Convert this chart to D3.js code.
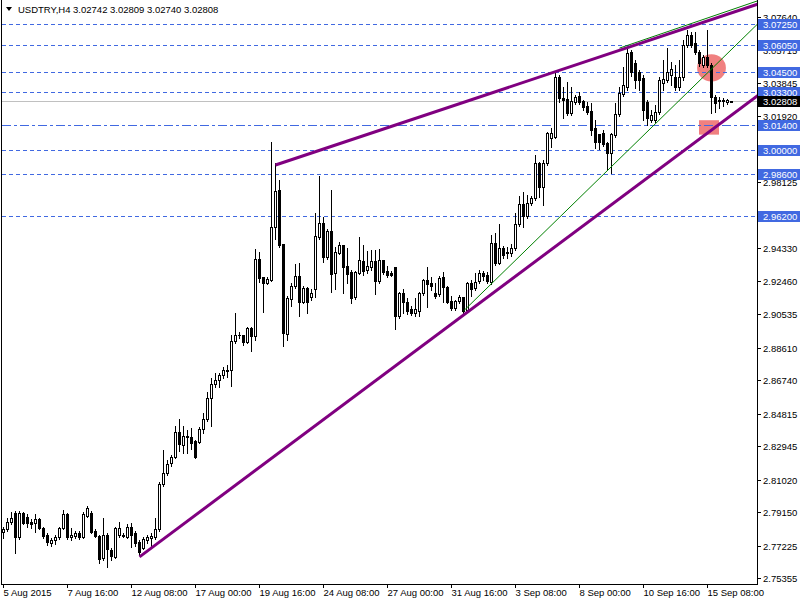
<!DOCTYPE html>
<html><head><meta charset="utf-8">
<script src="https://cdn.jsdelivr.net/npm/d3@7/dist/d3.min.js"></script>
<style>
html,body{margin:0;padding:0;background:#fff;}
svg{display:block;}
text{font-family:"Liberation Sans",Arial,sans-serif;}
</style></head>
<body>
<svg id="chart" width="800" height="600"></svg>
<script>
// ---- DATA (USDTRY H4) ----
const symbolTitle = "USDTRY,H4";
const lastQuote = ["3.02742", "3.02809", "3.02740", "3.02808"];
const opens = [2.7800,2.7818,2.7858,2.7910,2.7772,2.7910,2.7887,2.7858,2.7852,2.7875,2.7823,2.7783,2.7737,2.7754,2.7772,2.7823,2.7904,2.7772,2.7777,2.7795,
2.7772,2.7892,2.7910,2.7806,2.7777,2.7651,2.7783,2.7697,2.7657,2.7783,2.7783,2.7772,2.7829,2.7795,2.7743,2.7708,2.7754,2.7766,2.7772,2.7818,
2.8077,2.8140,2.8197,2.8232,2.8376,2.8301,2.8353,2.8347,2.8324,2.8318,2.8393,2.8451,2.8572,2.8652,2.8675,2.8704,2.8733,2.8733,2.8900,2.8934,
2.8934,2.8894,2.8974,2.8928,2.9371,2.9268,2.9233,2.9251,2.9556,2.9769,2.9458,2.8940,2.9141,2.9216,2.9274,2.9124,2.9205,2.9153,2.9199,2.9498,
2.9579,2.9383,2.9533,2.9291,2.9406,2.9452,2.9331,2.9297,2.9153,2.9291,2.9360,2.9308,2.9325,2.9360,2.9245,2.9366,2.9302,2.9291,2.9325,2.9043,
2.9176,2.9124,2.9084,2.9061,2.9072,2.9176,2.9251,2.9233,2.9176,2.9170,2.9268,2.9210,2.9130,2.9089,2.9130,2.9153,2.9078,2.9233,2.9205,2.9245,
2.9291,2.9279,2.9239,2.9464,2.9348,2.9435,2.9412,2.9406,2.9435,2.9573,2.9688,2.9619,2.9694,2.9723,2.9924,2.9786,2.9924,3.0068,3.0074,3.0419,
3.0298,3.0292,3.0212,3.0275,3.0310,3.0281,3.0252,3.0223,3.0125,3.0091,3.0097,3.0039,2.9981,3.0085,3.0206,3.0321,3.0361,3.0563,3.0499,3.0448,
3.0413,3.0275,3.0171,3.0171,3.0217,3.0384,3.0402,3.0430,3.0419,3.0361,3.0419,3.0603,3.0661,3.0615,3.0563,3.0488,3.0534,3.0488,3.0304,3.0286,
3.0281,3.0275,3.02742];
const highs = [2.7829,2.7881,2.7915,2.7921,2.7921,2.7915,2.7904,2.7875,2.7904,2.7881,2.7829,2.7795,2.7766,2.7783,2.7829,2.7927,2.7910,2.7823,2.7806,2.7806,
2.7915,2.7950,2.7921,2.7818,2.7783,2.7881,2.7795,2.7708,2.7829,2.7858,2.7795,2.7846,2.7852,2.7806,2.7754,2.7772,2.7783,2.7795,2.7881,2.8088,
2.8272,2.8215,2.8243,2.8410,2.8451,2.8410,2.8387,2.8399,2.8330,2.8405,2.8485,2.8606,2.8687,2.8715,2.8715,2.8750,2.8761,2.8934,2.9061,2.8951,
2.8934,2.8980,2.8980,2.9429,2.9412,2.9268,2.9268,3.0045,2.9924,2.9826,2.9458,2.9159,2.9233,2.9343,2.9348,2.9216,2.9210,2.9199,2.9636,2.9849,
2.9613,2.9544,2.9769,2.9441,2.9469,2.9452,2.9435,2.9308,2.9302,2.9498,2.9452,2.9418,2.9423,2.9423,2.9429,2.9366,2.9331,2.9302,2.9325,2.9182,
2.9199,2.9147,2.9101,2.9147,2.9182,2.9256,2.9325,2.9268,2.9233,2.9274,2.9297,2.9216,2.9159,2.9136,2.9164,2.9153,2.9239,2.9251,2.9291,2.9308,
2.9302,2.9297,2.9510,2.9521,2.9573,2.9446,2.9441,2.9458,2.9636,2.9734,2.9757,2.9740,2.9734,2.9970,2.9930,2.9941,3.0102,3.0125,3.0448,3.0430,
3.0361,3.0390,3.0361,3.0315,3.0333,3.0286,3.0275,3.0269,3.0171,3.0091,3.0114,3.0045,3.0097,3.0269,3.0361,3.0476,3.0592,3.0574,3.0517,3.0459,
3.0430,3.0286,3.0229,3.0258,3.0419,3.0517,3.0586,3.0505,3.0488,3.0517,3.0632,3.0689,3.0678,3.0678,3.0574,3.0545,3.0689,3.0499,3.0315,3.0304,
3.0298,3.0292,3.02809];
const lows = [2.7766,2.7806,2.7846,2.7679,2.7760,2.7846,2.7829,2.7823,2.7800,2.7818,2.7766,2.7726,2.7720,2.7731,2.7760,2.7818,2.7760,2.7754,2.7766,2.7760,
2.7766,2.7887,2.7795,2.7772,2.7622,2.7639,2.7599,2.7639,2.7651,2.7772,2.7772,2.7766,2.7714,2.7720,2.7668,2.7703,2.7737,2.7714,2.7760,2.7806,
2.8065,2.8128,2.8180,2.8226,2.8266,2.8255,2.8255,2.8278,2.8226,2.8313,2.8370,2.8439,2.8410,2.8635,2.8635,2.8687,2.8692,2.8641,2.8888,2.8917,
2.8877,2.8888,2.8842,2.8905,2.9239,2.9066,2.9228,2.9245,2.9487,2.9441,2.8871,2.8905,2.9101,2.9205,2.9043,2.9118,2.9061,2.9136,2.9153,2.9487,
2.9354,2.9371,2.9182,2.9199,2.9400,2.9176,2.9233,2.9118,2.9141,2.9285,2.9279,2.9291,2.9308,2.9170,2.9233,2.9285,2.9268,2.9274,2.8969,2.9032,
2.9061,2.9055,2.9049,2.9043,2.9043,2.9164,2.9095,2.9193,2.9147,2.9159,2.9124,2.9118,2.9078,2.9078,2.9118,2.9061,2.9072,2.9159,2.9193,2.9233,
2.9251,2.9233,2.9228,2.9337,2.9343,2.9377,2.9377,2.9389,2.9423,2.9561,2.9556,2.9607,2.9682,2.9711,2.9728,2.9682,2.9912,3.0016,3.0068,3.0275,
3.0183,3.0200,3.0200,3.0264,3.0264,3.0229,3.0206,3.0085,3.0010,3.0004,3.0022,2.9884,2.9866,3.0074,3.0194,3.0310,3.0344,3.0425,3.0356,3.0344,
3.0171,3.0142,3.0160,3.0160,3.0206,3.0344,3.0390,3.0373,3.0344,3.0344,3.0402,3.0592,3.0592,3.0551,3.0482,3.0476,3.0476,3.0212,3.0217,3.0240,
3.0252,3.0264,3.02740];
const closes = [2.7818,2.7858,2.7881,2.7772,2.7910,2.7852,2.7852,2.7846,2.7875,2.7823,2.7777,2.7743,2.7754,2.7772,2.7823,2.7904,2.7772,2.7783,2.7795,2.7772,
2.7904,2.7938,2.7800,2.7777,2.7645,2.7783,2.7703,2.7662,2.7823,2.7823,2.7777,2.7829,2.7783,2.7737,2.7685,2.7760,2.7772,2.7777,2.7818,2.8077,
2.8140,2.8192,2.8232,2.8376,2.8307,2.8353,2.8347,2.8313,2.8232,2.8393,2.8451,2.8572,2.8652,2.8675,2.8704,2.8733,2.8727,2.8900,2.8934,2.8934,
2.8894,2.8974,2.8928,2.9371,2.9262,2.9233,2.9256,2.9556,2.9763,2.9452,2.8946,2.9147,2.9216,2.9274,2.9124,2.9205,2.9124,2.9176,2.9504,2.9579,
2.9383,2.9533,2.9285,2.9412,2.9452,2.9325,2.9285,2.9147,2.9297,2.9366,2.9302,2.9331,2.9360,2.9245,2.9366,2.9297,2.9279,2.9279,2.9043,2.9176,
2.9124,2.9072,2.9061,2.9084,2.9176,2.9251,2.9228,2.9216,2.9159,2.9262,2.9210,2.9124,2.9089,2.9130,2.9153,2.9072,2.9233,2.9199,2.9239,2.9291,
2.9274,2.9245,2.9464,2.9348,2.9435,2.9394,2.9406,2.9435,2.9573,2.9688,2.9619,2.9694,2.9723,2.9924,2.9786,2.9924,3.0097,3.0097,3.0419,3.0298,
3.0286,3.0212,3.0281,3.0304,3.0275,3.0246,3.0217,3.0114,3.0045,3.0045,3.0033,2.9981,3.0091,3.0206,3.0327,3.0373,3.0557,3.0448,3.0402,3.0402,
3.0229,3.0183,3.0200,3.0217,3.0402,3.0407,3.0448,3.0465,3.0361,3.0419,3.0603,3.0661,3.0603,3.0563,3.0499,3.0534,3.0488,3.0304,3.0269,3.0281,
3.0286,3.0286,3.02808];

// time axis labels (every 16 H4 bars)
const timeLabels = ["5 Aug 2015","7 Aug 16:00","12 Aug 08:00","17 Aug 00:00","19 Aug 16:00","24 Aug 08:00","27 Aug 00:00","31 Aug 16:00","3 Sep 08:00","8 Sep 00:00","10 Sep 16:00","15 Sep 08:00"];
const timeLabelBars = [0,16,32,48,64,80,96,112,128,144,160,176];
// price axis labels
const priceTicks = [3.07640,3.05715,3.03845,3.01920,3.00050,2.98125,2.96200,2.94330,2.92460,2.90535,2.88610,2.86740,2.84815,2.82945,2.81020,2.79150,2.77225,2.75355];
// horizontal levels
const hLevels = [3.07250,3.06050,3.04500,3.03300,3.01400,3.00000,2.98600,2.96200];
const hLevelStyles = ["dash","dash","dash","dash","dashdot","dash","dash","dash"];
const lastPrice = 3.02808;
// trend lines [bar, price] pairs (rays to the right)
const trendUpper = [[68, 2.9912],[156, 3.0587]];
const trendLower = [[34, 2.7657],[154, 2.9717]];
const trendGreen1 = [[115, 2.9072],[150, 2.9857]];
const trendGreen2 = [[154, 3.0585],[188, 3.0852]];
// shapes
const ellipseShape = {bar: 177, price: 3.0471, rBars: 3.6, rPrice: 0.0078};
const rectShape = {bar1: 174, bar2: 179, p1: 3.0170, p2: 3.0087};

// ---- DRAW ----
const W = 800, H = 600, plotR = 757, plotB = 584;
const svg = d3.select("#chart");
const x = d3.scaleLinear().domain([0, 1]).range([3, 7]);
const y = d3.scaleLinear().domain([2.75355, 3.07640]).range([578, 17]);
const px = v => Math.round(x(v));
const py = v => Math.round(y(v));
const fs = 9.5;

svg.append("rect").attr("width", W).attr("height", H).attr("fill", "#fff");

const defs = svg.append("defs");
defs.append("clipPath").attr("id","plotclip").append("rect").attr("x",2).attr("y",0).attr("width",plotR-2).attr("height",plotB);
const plot = svg.append("g").attr("clip-path","url(#plotclip)");

// background shapes
plot.append("ellipse")
  .attr("cx", x(ellipseShape.bar) + 0.5).attr("cy", y(ellipseShape.price))
  .attr("rx", x(ellipseShape.rBars) - x(0)).attr("ry", y(ellipseShape.price - ellipseShape.rPrice) - y(ellipseShape.price))
  .attr("fill", "#f08080");
plot.append("rect")
  .attr("x", x(rectShape.bar1)).attr("y", y(rectShape.p1))
  .attr("width", x(rectShape.bar2) - x(rectShape.bar1)).attr("height", y(rectShape.p2) - y(rectShape.p1))
  .attr("fill", "#f08080");

// horizontal levels
hLevels.forEach((lv, k) => {
  plot.append("line").attr("x1", 2).attr("x2", plotR).attr("y1", py(lv)+0.5).attr("y2", py(lv)+0.5)
    .attr("stroke", "#4169e1").attr("stroke-width", 1)
    .attr("stroke-dasharray", hLevelStyles[k] === "dash" ? "4,3" : "9,3,3,3");
});
// last price line
plot.append("line").attr("x1", 2).attr("x2", plotR).attr("y1", py(lastPrice)+0.5).attr("y2", py(lastPrice)+0.5)
  .attr("stroke", "#c0c0c0").attr("stroke-width", 1);

// candles
const idx = d3.range(opens.length);
const cg = plot.append("g");
idx.forEach(i => {
  const cx = px(i);
  const yo = py(opens[i]), yc = py(closes[i]), yh = py(highs[i]), yl = py(lows[i]);
  cg.append("line").attr("x1", cx+0.5).attr("x2", cx+0.5).attr("y1", yh).attr("y2", yl+1)
    .attr("stroke", "#000").attr("stroke-width", 1);
  const top = Math.min(yo, yc), bot = Math.max(yo, yc);
  const bull = closes[i] >= opens[i];
  if (bot - top < 1) {
    cg.append("line").attr("x1", cx-1).attr("x2", cx+2).attr("y1", top+0.5).attr("y2", top+0.5)
      .attr("stroke", "#000").attr("stroke-width", 1);
  } else {
    cg.append("rect").attr("x", cx-0.5).attr("y", top+0.5).attr("width", 2).attr("height", bot-top)
      .attr("fill", bull ? "#fff" : "#000").attr("stroke", "#000").attr("stroke-width", 1);
  }
});

// trend lines (rays)
function ray(pts, color, width) {
  const [a, b] = pts;
  const slope = (b[1]-a[1])/(b[0]-a[0]);
  const endBar = x.invert(plotR + 5);
  const endP = a[1] + slope*(endBar - a[0]);
  plot.append("line")
    .attr("x1", x(a[0])+0.5).attr("y1", y(a[1]))
    .attr("x2", x(endBar)).attr("y2", y(endP))
    .attr("stroke", color).attr("stroke-width", width);
}
ray(trendGreen1, "#008000", 1);
ray(trendGreen2, "#008000", 1);
ray(trendUpper, "#800080", 3);
ray(trendLower, "#800080", 3);

// frame
svg.append("line").attr("x1", 1.5).attr("x2", 1.5).attr("y1", 0).attr("y2", plotB+1).attr("stroke", "#000");
svg.append("line").attr("x1", plotR+0.5).attr("x2", plotR+0.5).attr("y1", 0).attr("y2", plotB+1).attr("stroke", "#000");
svg.append("line").attr("x1", 1).attr("x2", plotR+1).attr("y1", plotB+0.5).attr("y2", plotB+0.5).attr("stroke", "#000");

// price axis
const yAxisG = svg.append("g");
priceTicks.forEach(t => {
  const yy = py(t);
  yAxisG.append("line").attr("x1", plotR).attr("x2", plotR+4).attr("y1", yy+0.5).attr("y2", yy+0.5).attr("stroke", "#000");
  yAxisG.append("text").attr("x", plotR+6).attr("y", yy+0.5).attr("dy", "0.35em")
    .attr("font-size", fs).attr("fill", "#000").text(t.toFixed(5));
});
// level labels
hLevels.forEach(lv => {
  const yy = py(lv);
  yAxisG.append("rect").attr("x", plotR+1).attr("y", yy-5).attr("width", W-plotR-1).attr("height", 11).attr("fill", "#4169e1");
  yAxisG.append("text").attr("x", plotR+6).attr("y", yy+0.5).attr("dy", "0.35em")
    .attr("font-size", fs).attr("fill", "#fff").text(lv.toFixed(5));
});
{
  const yy = py(lastPrice);
  yAxisG.append("rect").attr("x", plotR+1).attr("y", yy-5).attr("width", W-plotR-1).attr("height", 11).attr("fill", "#000");
  yAxisG.append("text").attr("x", plotR+6).attr("y", yy+0.5).attr("dy", "0.35em")
    .attr("font-size", fs).attr("fill", "#fff").text(lastPrice.toFixed(5));
}

// time axis
const xAxisG = svg.append("g");
timeLabelBars.forEach((b, k) => {
  const xx = px(b);
  xAxisG.append("line").attr("x1", xx+0.5).attr("x2", xx+0.5).attr("y1", plotB).attr("y2", plotB+4).attr("stroke", "#000");
  xAxisG.append("text").attr("x", xx+0.5).attr("y", plotB+12).attr("font-size", fs).attr("fill", "#000").text(timeLabels[k]);
});

// title
svg.append("path").attr("d", "M6,7 L12,7 L9,11 Z").attr("fill", "#000");
svg.append("text").attr("x", 18).attr("y", 13).attr("font-size", fs).attr("fill", "#000")
  .text(symbolTitle + "  " + lastQuote.join(" "));
</script>
</body></html>
